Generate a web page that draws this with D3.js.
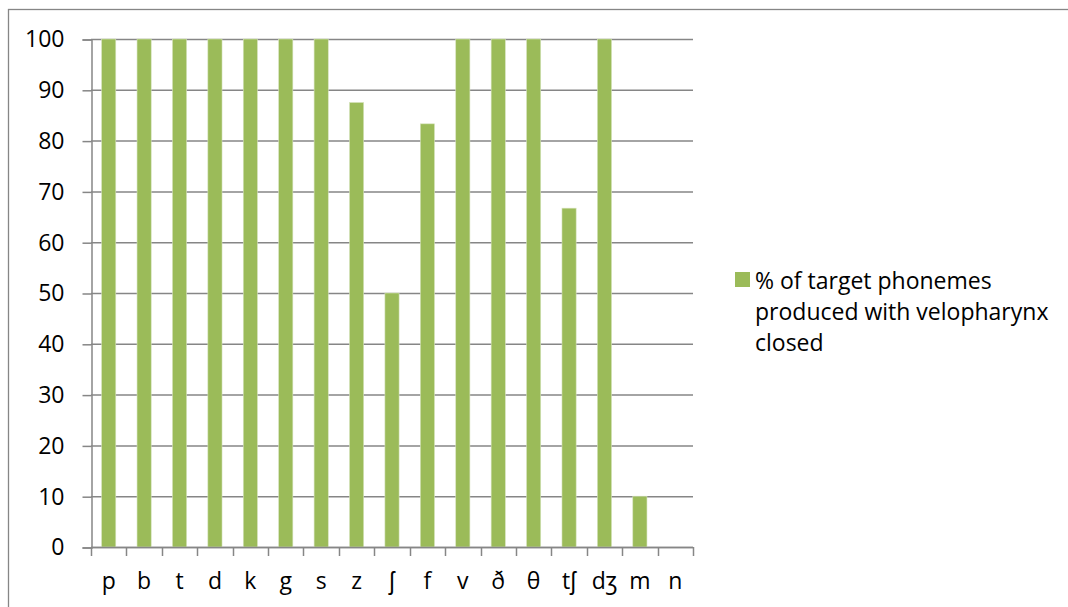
<!DOCTYPE html>
<html>
<head>
<meta charset="utf-8">
<script src="https://cdn.jsdelivr.net/npm/d3@7"></script>
<style>
  html, body { margin: 0; padding: 0; background: #fff; }
  svg text { font-family: "Open Sans", "Noto Sans", sans-serif; fill: #000; }
</style>
</head>
<body>
<svg id="chart" width="1068" height="607"></svg>
<script>
// Phonemes on the x axis and the share of each produced with the velopharynx closed
const phonemes = ["p", "b", "t", "d", "k", "g", "s", "z", "ʃ", "f", "v", "ð", "θ", "tʃ", "dʒ", "m", "n"];
const percentClosed = [100, 100, 100, 100, 100, 100, 100, 87.5, 50, 83.3, 100, 100, 100, 66.7, 100, 10, 0];
const yTicks = [0, 10, 20, 30, 40, 50, 60, 70, 80, 90, 100];
const legendLines = ["% of target phonemes", "produced with velopharynx", "closed"];

const svg = d3.select("#chart");
const gridColor = "#868686";
const barColor = "#9BBB59";
const fontSize = 23;

// chart frame (runs off the right and bottom edges)
svg.append("rect")
  .attr("x", 8.5).attr("y", 9.5)
  .attr("width", 1100).attr("height", 650)
  .attr("fill", "none").attr("stroke", gridColor).attr("stroke-width", 1.3);

const plot = { left: 91, right: 693, top: 39, bottom: 547 };

const x = d3.scaleBand()
  .domain(phonemes)
  .range([plot.left, plot.right])
  .paddingInner(0.6)
  .paddingOuter(0.3);

const y = d3.scaleLinear()
  .domain([0, 100])
  .range([plot.bottom, plot.top]);

// horizontal gridlines
svg.append("g")
  .selectAll("line")
  .data(yTicks)
  .join("line")
  .attr("x1", plot.left).attr("x2", plot.right)
  .attr("y1", d => y(d) + 0.5).attr("y2", d => y(d) + 0.5)
  .attr("stroke", gridColor).attr("stroke-width", 1.5);

// bars
svg.append("g")
  .selectAll("rect")
  .data(phonemes.map((p, i) => ({ p, v: percentClosed[i] })))
  .join("rect")
  .attr("x", d => x(d.p))
  .attr("width", x.bandwidth())
  .attr("y", d => y(d.v))
  .attr("height", d => y(0) - y(d.v))
  .attr("fill", barColor)
  .attr("stroke", "#d6e3bd").attr("stroke-width", 0.6);

// y axis
const yAxis = d3.axisLeft(y).tickValues(yTicks).tickSize(9).tickPadding(18);
const gy = svg.append("g")
  .attr("transform", `translate(${plot.left + 0.5},0.5)`)
  .call(yAxis);
gy.attr("font-size", fontSize).attr("font-family", null);
gy.select(".domain").attr("stroke", gridColor).attr("stroke-width", 1.5);
gy.selectAll(".tick line").attr("stroke", gridColor).attr("stroke-width", 1.5);
gy.selectAll(".tick text").attr("fill", "#000");

// x axis: ticks sit on the category boundaries, labels in the middle
const boundaries = d3.range(phonemes.length + 1).map(i => plot.left + i * (plot.right - plot.left) / phonemes.length);
svg.append("g")
  .selectAll("line")
  .data(boundaries)
  .join("line")
  .attr("x1", d => Math.round(d) + 0.5).attr("x2", d => Math.round(d) + 0.5)
  .attr("y1", plot.bottom).attr("y2", plot.bottom + 9)
  .attr("stroke", gridColor).attr("stroke-width", 1.5);
svg.append("line")
  .attr("x1", plot.left).attr("x2", plot.right)
  .attr("y1", plot.bottom + 0.5).attr("y2", plot.bottom + 0.5)
  .attr("stroke", gridColor).attr("stroke-width", 1.5);

svg.append("g")
  .selectAll("text")
  .data(phonemes)
  .join("text")
  .attr("x", d => x(d) + x.bandwidth() / 2)
  .attr("y", 589)
  .attr("text-anchor", "middle")
  .attr("font-size", fontSize)
  .text(d => d);

// legend
const legend = svg.append("g").attr("transform", "translate(735,272)");
legend.append("rect")
  .attr("width", 15).attr("height", 15)
  .attr("fill", barColor);
legend.selectAll("text")
  .data(legendLines)
  .join("text")
  .attr("x", 20)
  .attr("y", (d, i) => 17 + i * 31)
  .attr("font-size", fontSize)
  .text(d => d);
</script>
</body>
</html>
